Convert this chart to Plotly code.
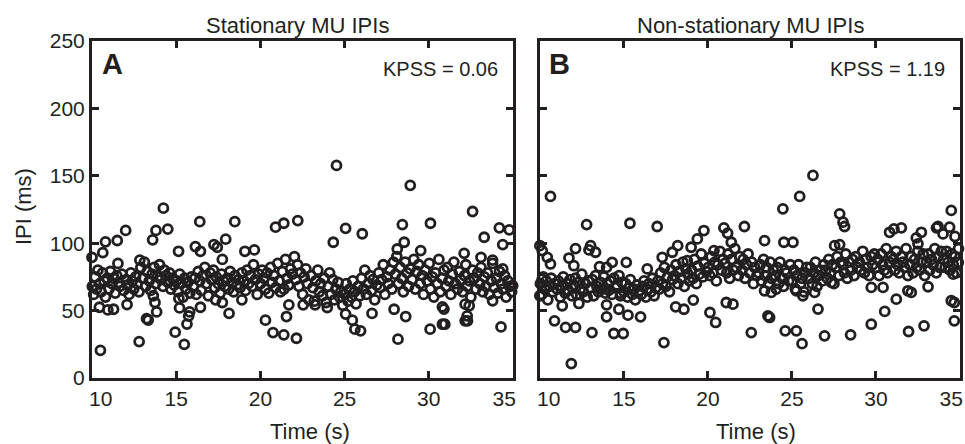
import plotly.graph_objects as go

# ---------------- Data ----------------
# Panel A: stationary MU inter-pulse intervals
stat_time = [
    10.02, 10.10, 10.19, 10.27, 10.35, 10.46, 10.54, 10.63, 10.71, 10.80, 10.91,
    11.01, 11.09, 11.18, 11.29, 11.38, 11.47, 11.58, 11.66, 11.77, 11.88,
    12.03, 12.12, 12.20, 12.31, 12.39, 12.48, 12.59, 12.68, 12.79, 12.90,
    13.02, 13.11, 13.19, 13.28, 13.40, 13.49, 13.57, 13.69, 13.78, 13.89,
    14.01, 14.10, 14.22, 14.30, 14.39, 14.51, 14.60, 14.68, 14.79, 14.88,
    15.03, 15.12, 15.21, 15.29, 15.41, 15.50, 15.58, 15.69, 15.81, 15.90,
    16.02, 16.11, 16.19, 16.31, 16.40, 16.48, 16.59, 16.70, 16.78, 16.91,
    17.01, 17.10, 17.21, 17.29, 17.38, 17.50, 17.61, 17.69, 17.80, 17.89,
    18.03, 18.11, 18.20, 18.32, 18.41, 18.49, 18.60, 18.71, 18.79, 18.90,
    19.02, 19.12, 19.20, 19.29, 19.40, 19.51, 19.59, 19.70, 19.81, 19.89,
    20.01, 20.10, 20.21, 20.30, 20.39, 20.50, 20.61, 20.69, 20.80, 20.91,
    21.03, 21.11, 21.19, 21.31, 21.40, 21.49, 21.60, 21.68, 21.79, 21.90,
    22.02, 22.10, 22.21, 22.29, 22.38, 22.51, 22.60, 22.70, 22.79, 22.88,
    23.01, 23.12, 23.20, 23.29, 23.41, 23.50, 23.58, 23.69, 23.80, 23.91,
    24.03, 24.11, 24.19, 24.30, 24.39, 24.48, 24.61, 24.70, 24.78, 24.89,
    25.02, 25.10, 25.21, 25.31, 25.40, 25.49, 25.59, 25.68, 25.80, 25.90,
    26.01, 26.12, 26.20, 26.29, 26.41, 26.50, 26.60, 26.69, 26.79, 26.91,
    27.03, 27.11, 27.20, 27.30, 27.39, 27.51, 27.59, 27.70, 27.81, 27.90,
    28.02, 28.10, 28.19, 28.31, 28.40, 28.49, 28.60, 28.71, 28.80, 28.89,
    29.01, 29.11, 29.20, 29.29, 29.40, 29.50, 29.61, 29.69, 29.78, 29.90,
    30.03, 30.10, 30.21, 30.30, 30.39, 30.51, 30.60, 30.68, 30.79, 30.91,
    31.02, 31.11, 31.19, 31.31, 31.40, 31.49, 31.58, 31.70, 31.81, 31.89,
    32.01, 32.12, 32.20, 32.29, 32.41, 32.50, 32.59, 32.70, 32.80, 32.90,
    33.03, 33.10, 33.21, 33.30, 33.39, 33.48, 33.60, 33.71, 33.79, 33.88,
    34.02, 34.11, 34.20, 34.31, 34.40, 34.50, 34.59, 34.69, 34.80, 34.92,
    # sparse points above / below the main band
    14.24, 16.40, 18.48, 12.00, 13.80, 14.50, 13.60, 10.80, 11.50, 17.94,
    17.24, 17.44, 10.00, 10.64, 15.14, 16.14, 16.44, 19.08, 19.64, 11.54,
    17.74, 12.84,
    10.50, 12.80, 14.94, 15.48, 13.24, 13.34, 13.84, 15.64, 15.74, 15.80,
    18.14, 18.90, 12.08, 10.44, 10.94, 11.28, 13.64, 13.74, 15.16, 15.20,
    16.44, 17.34, 17.74,
    24.52, 28.90, 32.60, 20.90, 21.39, 22.22, 25.06, 26.05, 24.33, 28.43,
    30.10, 28.54, 28.13, 32.10, 29.52,
    20.30, 20.75, 21.39, 22.14, 21.55, 21.69, 22.54, 23.97, 23.25, 25.06,
    25.46, 25.61, 25.95, 26.63, 28.17, 28.63, 30.08, 30.81, 30.95, 30.81,
    32.16, 32.30, 32.16, 32.40, 27.94,
    33.29, 34.19, 34.78, 34.39, 33.10, 33.79, 34.39, 34.98, 33.79, 34.29,
    32.28, 30.90,
]
stat_ipi = [
    68, 62, 75, 66, 80, 70, 64, 78, 72, 60, 74,
    66, 79, 70, 74, 63, 76, 71, 68, 77, 65,
    73, 69, 62, 78, 72, 66, 75, 70, 64, 82,
    74, 86, 68, 79, 72, 65, 77, 82, 70, 75,
    84, 73, 68, 80, 76, 71, 78, 66, 74, 69,
    72, 64, 77, 70, 60, 74, 66, 71, 63, 75,
    68, 74, 62, 79, 72, 65, 76, 82, 70, 61,
    78, 73, 80, 67, 75, 70, 63, 77, 72, 68,
    74, 66, 79, 71, 64, 76, 69, 73, 67, 78,
    72, 65, 80, 70, 76, 68, 84, 73, 62, 77,
    70, 80, 74, 66, 78, 63, 82, 71, 76, 67,
    85, 72, 64, 79, 66, 88, 74, 69, 81, 77,
    90, 73, 84, 68, 78, 62, 75, 81, 70, 58,
    76, 67, 57, 72, 80, 64, 70, 61, 74, 56,
    68, 78, 62, 73, 58, 66, 71, 60, 64, 54,
    62, 70, 57, 66, 60, 72, 64, 55, 68, 61,
    74, 66, 80, 62, 70, 76, 65, 73, 58, 69,
    78, 67, 73, 84, 62, 75, 70, 80, 66, 86,
    77, 90, 70, 82, 74, 64, 86, 78, 68, 81,
    73, 88, 66, 79, 84, 70, 76, 62, 80, 72,
    85, 66, 75, 60, 78, 70, 88, 64, 74, 80,
    68, 82, 72, 62, 77, 86, 70, 66, 79, 73,
    64, 76, 84, 68, 72, 60, 80, 74, 66, 78,
    70, 82, 64, 75, 68, 78, 62, 72, 85, 67,
    74, 63, 79, 70, 66, 76, 60, 72, 68, 64,
    126, 116, 116, 109.5, 109.5, 110.5, 102.5, 101, 102, 103,
    99, 97, 89.5, 93, 94, 97.5, 94, 94, 95, 85,
    88, 87.5,
    20.5, 27, 34, 25, 44, 43, 49, 40, 46, 49,
    48, 58, 54.5, 52.5, 50.5, 51, 61, 56, 59, 52,
    52.5, 58, 56,
    157.7, 142.9, 123.5, 111.9, 114.8, 116.8, 111, 107, 100.7, 113.8,
    114.8, 100.7, 95.7, 92.5, 94.5,
    42.9, 33.7, 32, 29.5, 45.6, 54.3, 54.3, 52.3, 54.3, 47.4,
    42.9, 36.2, 35, 47.9, 28.8, 45.6, 36.2, 39.9, 39.9, 52.8,
    42.4, 42.4, 54.8, 53.6, 51,
    104.4, 111.4, 109.9, 99, 89.5, 87.5, 80.9, 68.5, 57.3, 37.9,
    46.1, 51.1,
]

# Panel B: non-stationary MU inter-pulse intervals
nonstat_time = [
    10.03, 10.12, 10.20, 10.29, 10.38, 10.47, 10.58, 10.67, 10.76, 10.88,
    11.02, 11.10, 11.21, 11.30, 11.39, 11.50, 11.61, 11.70, 11.79, 11.91,
    12.01, 12.11, 12.19, 12.30, 12.40, 12.49, 12.58, 12.70, 12.81, 12.89,
    13.03, 13.12, 13.20, 13.31, 13.39, 13.48, 13.60, 13.69, 13.80, 13.90,
    14.02, 14.10, 14.19, 14.29, 14.41, 14.50, 14.59, 14.71, 14.79, 14.89,
    15.01, 15.11, 15.22, 15.30, 15.38, 15.51, 15.60, 15.68, 15.79, 15.91,
    16.03, 16.12, 16.20, 16.31, 16.39, 16.49, 16.61, 16.70, 16.80, 16.90,
    17.02, 17.11, 17.19, 17.30, 17.41, 17.50, 17.59, 17.71, 17.80, 17.89,
    18.01, 18.10, 18.21, 18.29, 18.40, 18.51, 18.60, 18.69, 18.81, 18.90,
    19.03, 19.11, 19.20, 19.31, 19.39, 19.48, 19.60, 19.70, 19.79, 19.91,
    20.02, 20.11, 20.19, 20.30, 20.41, 20.50, 20.59, 20.71, 20.80, 20.89,
    21.01, 21.12, 21.20, 21.29, 21.40, 21.51, 21.60, 21.69, 21.81, 21.90,
    22.03, 22.10, 22.21, 22.30, 22.39, 22.48, 22.60, 22.71, 22.79, 22.91,
    23.02, 23.11, 23.19, 23.31, 23.40, 23.49, 23.61, 23.70, 23.78, 23.89,
    24.01, 24.12, 24.20, 24.29, 24.41, 24.50, 24.59, 24.69, 24.80, 24.90,
    25.03, 25.11, 25.20, 25.30, 25.39, 25.51, 25.60, 25.71, 25.79, 25.88,
    26.02, 26.10, 26.21, 26.31, 26.40, 26.49, 26.58, 26.70, 26.81, 26.90,
    27.01, 27.11, 27.19, 27.30, 27.41, 27.50, 27.61, 27.69, 27.80, 27.91,
    28.03, 28.12, 28.20, 28.29, 28.39, 28.51, 28.60, 28.70, 28.79, 28.89,
    29.02, 29.10, 29.21, 29.31, 29.40, 29.49, 29.59, 29.71, 29.80, 29.90,
    30.01, 30.11, 30.19, 30.30, 30.40, 30.50, 30.61, 30.69, 30.80, 30.91,
    31.03, 31.12, 31.20, 31.29, 31.38, 31.51, 31.60, 31.70, 31.79, 31.90,
    32.02, 32.10, 32.21, 32.30, 32.41, 32.49, 32.60, 32.69, 32.81, 32.90,
    33.01, 33.11, 33.19, 33.31, 33.40, 33.50, 33.59, 33.70, 33.80, 33.89,
    34.03, 34.12, 34.20, 34.29, 34.40, 34.51, 34.60, 34.70, 34.79, 34.91,
    # sparse points above / below the main band
    10.63, 12.78, 15.36, 16.98, 19.76, 19.37, 19.00, 18.20, 10.00, 10.14,
    10.44, 10.63, 12.12, 11.73, 12.02, 13.02, 12.92, 13.31, 13.55, 13.97,
    14.30, 15.14, 16.39, 17.28, 17.88, 18.77, 20.36,
    11.87, 17.38, 14.40, 14.96, 13.10, 11.53, 12.12, 10.87, 13.97, 15.24,
    15.99, 14.70, 13.97, 11.33, 12.32, 10.00, 10.14, 18.08, 18.57, 19.13,
    20.12, 20.46, 14.80,
    26.25, 25.46, 24.46, 27.84, 28.04, 28.13, 20.95, 22.17, 21.17, 34.48,
    34.38, 30.81, 31.07, 31.51, 32.40, 32.70, 33.69, 33.99, 32.50, 24.52,
    25.06, 21.39, 23.37, 27.54, 27.84, 34.70, 33.60,
    25.60, 24.60, 25.26, 22.58, 26.94, 28.49, 29.72, 30.52, 31.21, 31.94,
    32.86, 26.55, 23.57, 23.67, 21.09, 21.49, 23.37, 23.77, 24.07, 25.26,
    25.65, 26.35, 27.34, 29.72, 30.42, 31.90, 32.10, 33.10, 34.48, 34.90,
    34.60, 34.66, 34.66,
]
nonstat_ipi = [
    70, 62, 75, 66, 72, 58, 68, 74, 64, 70,
    66, 72, 60, 68, 75, 63, 70, 65, 73, 61,
    69, 74, 62, 71, 66, 77, 64, 70, 60, 72,
    67, 73, 61, 76, 68, 64, 71, 66, 75, 63,
    70, 65, 72, 62, 74, 67, 69, 76, 63, 71,
    64, 70, 60, 67, 73, 62, 66, 58, 69, 65,
    62, 68, 72, 60, 66, 70, 64, 74, 61, 67,
    72, 66, 78, 70, 82, 68, 75, 64, 80, 73,
    76, 84, 70, 79, 74, 86, 68, 81, 77, 72,
    80, 74, 88, 70, 83, 77, 92, 75, 85, 79,
    82, 76, 90, 78, 86, 72, 84, 94, 80, 88,
    85, 78, 92, 74, 88, 80, 96, 82, 76, 90,
    80, 88, 74, 84, 92, 78, 86, 70, 82, 76,
    78, 84, 72, 88, 76, 82, 70, 86, 74, 80,
    76, 82, 70, 86, 74, 68, 80, 78, 72, 84,
    72, 80, 66, 76, 84, 70, 74, 64, 78, 82,
    74, 82, 70, 78, 86, 68, 76, 80, 72, 84,
    80, 74, 88, 78, 84, 70, 82, 90, 76, 86,
    84, 78, 92, 74, 86, 80, 88, 76, 90, 82,
    86, 80, 94, 78, 88, 82, 76, 90, 84, 92,
    82, 88, 76, 92, 84, 80, 96, 78, 86, 90,
    88, 80, 94, 84, 78, 90, 86, 82, 96, 76,
    84, 90, 78, 88, 82, 94, 80, 86, 92, 76,
    86, 92, 80, 88, 84, 96, 78, 90, 82, 94,
    88, 82, 94, 86, 80, 92, 84, 90, 78, 96,
    134.7, 113.8, 114.8, 112.4, 109.4, 103.2, 97, 98.2, 98.2, 94.5,
    89.5, 84.6, 96, 89, 83.3, 98.2, 95, 93.3, 82.6, 82.1,
    85.8, 85.8, 80.9, 89.5, 93.3, 87, 94.5,
    10.7, 26.3, 33, 33, 33.7, 37.5, 37.5, 42.4, 45.4, 46.6,
    45.4, 51, 54.3, 53.6, 55.3, 61, 73.4, 52.8, 51, 57.8,
    48.6, 41.2, 61,
    150.3, 134.7, 125.5, 121.8, 115.6, 112.4, 111.4, 112.4, 107.4, 124.3,
    111.9, 108.1, 110.6, 111.4, 103.9, 108.1, 112.4, 106.9, 99.5, 100.7,
    100.7, 100.7, 101.9, 98.2, 99, 105, 111.4,
    25.5, 35, 35, 33.7, 31.3, 32, 39.9, 49.4, 58.5, 34.5,
    38.7, 51.1, 46.1, 44.9, 56, 54.8, 64.7, 63.5, 66, 64.7,
    61, 63.5, 70.9, 67.2, 67.2, 64.7, 63.5, 67.7, 57.3, 85.8,
    77, 56, 42.4,
]

panel_titles = ["Stationary MU IPIs", "Non-stationary MU IPIs"]
panel_letters = ["A", "B"]
kpss_labels = ["KPSS = 0.06", "KPSS = 1.19"]
x_ticks = [10, 15, 20, 25, 30, 35]
y_ticks = [0, 50, 100, 150, 200, 250]

# ---------------- Styling ----------------
INK = "#231f20"
FONT = "Liberation Sans, Arial, Helvetica, sans-serif"

fig = go.Figure()
marker = dict(symbol="circle-open", size=9, color=INK, line=dict(width=2.8, color=INK))
fig.add_trace(go.Scatter(x=stat_time, y=stat_ipi, mode="markers", marker=marker,
                         xaxis="x", yaxis="y", cliponaxis=False, showlegend=False,
                         hoverinfo="skip"))
fig.add_trace(go.Scatter(x=nonstat_time, y=nonstat_ipi, mode="markers", marker=marker,
                         xaxis="x2", yaxis="y2", cliponaxis=False, showlegend=False,
                         hoverinfo="skip"))

# edge labels are nudged inward (as in the reference) with non-breaking spaces
x_text = ["\u00a0\u00a0\u00a010"] + [str(v) for v in x_ticks[1:-1]] + ["35\u00a0\u00a0\u00a0"]

axis_common = dict(showline=True, linewidth=3, linecolor=INK, mirror="ticks",
                   ticks="inside", ticklen=7, tickwidth=3, tickcolor=INK,
                   showgrid=False, zeroline=False, automargin=False,
                   ticklabeloverflow="allow",
                   tickfont=dict(family=FONT, size=21, color=INK))

fig.update_layout(
    width=965, height=444, autosize=False,
    margin=dict(l=92, r=5, t=41, b=66, autoexpand=False),
    paper_bgcolor="white", plot_bgcolor="white",
    font=dict(family=FONT, color=INK),
    hovermode=False,
    xaxis=dict(domain=[0, 0.485], range=[10, 35], tickvals=x_ticks, ticktext=x_text,
               anchor="y", **axis_common),
    yaxis=dict(domain=[0, 1], range=[0, 250], tickvals=y_ticks, anchor="x", **axis_common),
    xaxis2=dict(domain=[0.516, 1], range=[10, 35], tickvals=x_ticks, ticktext=x_text,
                anchor="y2", **axis_common),
    yaxis2=dict(domain=[0, 1], range=[0, 250], tickvals=y_ticks, anchor="x2",
                showticklabels=False, **axis_common),
)

ann = []
for i, (xr, yr) in enumerate([("x", "y"), ("x2", "y2")]):
    cx = [0.237, 0.759][i]
    ann.append(dict(text=panel_titles[i], x=cx, y=1.047, xref="paper", yref="paper",
                    showarrow=False, xanchor="center", yanchor="middle",
                    font=dict(family=FONT, size=22, color=INK)))
    ann.append(dict(text="<b>%s</b>" % panel_letters[i], x=10.45, y=233, xref=xr, yref=yr,
                    showarrow=False, xanchor="left", yanchor="middle",
                    font=dict(family=FONT, size=29, color=INK)))
    ann.append(dict(text=kpss_labels[i], x=34.2, y=229, xref=xr, yref=yr,
                    showarrow=False, xanchor="right", yanchor="middle",
                    font=dict(family=FONT, size=20, color=INK)))
    ann.append(dict(text="Time (s)", x=[0.251, 0.765][i], y=-0.16, xref="paper", yref="paper",
                    showarrow=False, xanchor="center", yanchor="middle",
                    font=dict(family=FONT, size=22, color=INK)))
ann.append(dict(text="IPI (ms)", x=-0.0795, y=0.51, xref="paper", yref="paper",
                textangle=-90, showarrow=False, xanchor="center", yanchor="middle",
                font=dict(family=FONT, size=22, color=INK)))
fig.update_layout(annotations=ann)

# remove the default page margin so the figure sits at the top-left corner
fig.write_html("out.html",
               config={"displayModeBar": False, "responsive": False},
               post_script="document.body.style.margin='0';"
                           "document.body.style.overflow='hidden';")
